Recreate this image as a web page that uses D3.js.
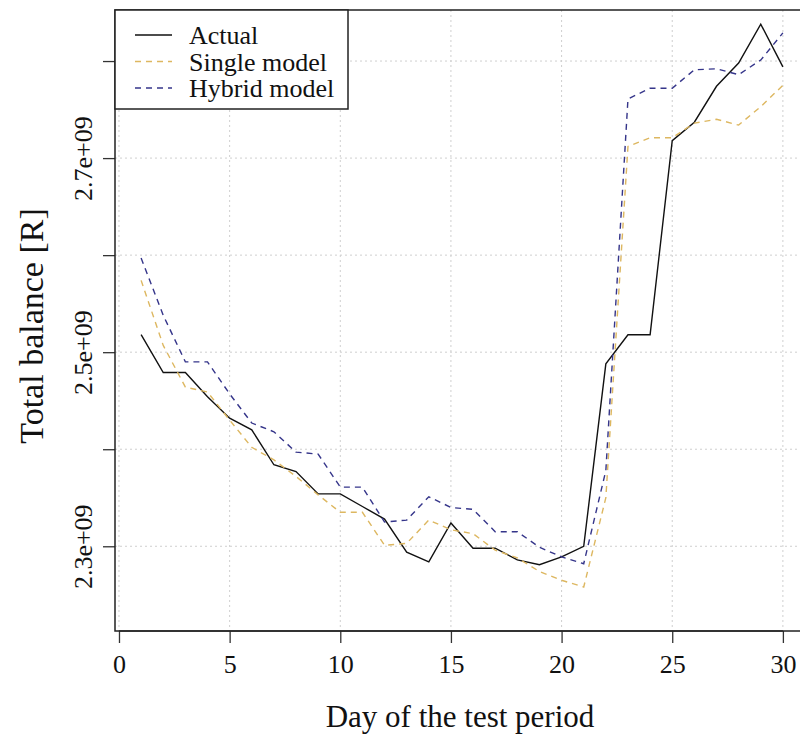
<!DOCTYPE html>
<html>
<head>
<meta charset="utf-8">
<title>Total balance</title>
<script src="https://d3js.org/d3.v7.min.js"></script>
<style>
  body { margin: 0; background: #fff; }
  text { font-family: 'Liberation Serif', 'Times New Roman', serif; fill: #111; }
</style>
</head>
<body>
<svg width="800" height="735"></svg>
<script>
// days of the test period
var days = [1,2,3,4,5,6,7,8,9,10,11,12,13,14,15,16,17,18,19,20,21,22,23,24,25,26,27,28,29,30];

// total balance
var actual = [2.518e9,2.479e9,2.479e9,2.454e9,2.432e9,2.420e9,2.384e9,2.377e9,2.354e9,2.354e9,
              2.341e9,2.328e9,2.294e9,2.284e9,2.324e9,2.298e9,2.298e9,2.286e9,2.281e9,2.289e9,
              2.300e9,2.488e9,2.518e9,2.518e9,2.718e9,2.737e9,2.774e9,2.798e9,2.838e9,2.794e9];
var single = [2.574e9,2.507e9,2.464e9,2.459e9,2.430e9,2.402e9,2.389e9,2.372e9,2.353e9,2.335e9,
              2.335e9,2.301e9,2.303e9,2.327e9,2.317e9,2.313e9,2.296e9,2.288e9,2.274e9,2.265e9,
              2.258e9,2.350e9,2.712e9,2.721e9,2.721e9,2.736e9,2.740e9,2.734e9,2.753e9,2.775e9];
var hybrid = [2.597e9,2.538e9,2.490e9,2.490e9,2.457e9,2.427e9,2.418e9,2.397e9,2.395e9,2.361e9,
              2.361e9,2.325e9,2.327e9,2.351e9,2.340e9,2.338e9,2.315e9,2.315e9,2.299e9,2.289e9,
              2.282e9,2.378e9,2.761e9,2.772e9,2.772e9,2.791e9,2.792e9,2.786e9,2.801e9,2.829e9];

var xTicks = [0,5,10,15,20,25,30];
var yTicks = [2.3e9,2.4e9,2.5e9,2.6e9,2.7e9,2.8e9];
var yLabels = [2.3e9,2.5e9,2.7e9];

var svg = d3.select("svg"),
    pL = 115, pR = 809, pT = 10, pB = 631;

var x = d3.scaleLinear().domain([-0.18, 31.18]).range([pL, pR]);
var y = d3.scaleLinear().domain([2.2127e9, 2.8526e9]).range([pB, pT]);

svg.append("defs").append("clipPath").attr("id", "plot")
  .append("rect").attr("x", pL).attr("y", pT).attr("width", pR - pL).attr("height", pB - pT);

// grid
var grid = svg.append("g").attr("stroke", "#cfcfcf").attr("stroke-width", 1).attr("stroke-dasharray", "2,3");
grid.selectAll(".gx").data(xTicks).enter().append("line")
    .attr("x1", function(d) { return x(d); }).attr("x2", function(d) { return x(d); })
    .attr("y1", pT).attr("y2", pB);
grid.selectAll(".gy").data(yTicks).enter().append("line")
    .attr("y1", function(d) { return y(d); }).attr("y2", function(d) { return y(d); })
    .attr("x1", pL).attr("x2", pR);

// series
var series = [
  {name: "Actual", values: actual, color: "#111111", dash: null},
  {name: "Single model", values: single, color: "#DDB760", dash: "6,5"},
  {name: "Hybrid model", values: hybrid, color: "#35358a", dash: "6,5"}
];

var line = d3.line()
    .x(function(d, i) { return x(days[i]); })
    .y(function(d) { return y(d); });

var lines = svg.append("g").attr("clip-path", "url(#plot)");
lines.selectAll("path").data(series).enter().append("path")
    .attr("fill", "none")
    .attr("stroke", function(d) { return d.color; })
    .attr("stroke-width", 1.4)
    .attr("stroke-dasharray", function(d) { return d.dash; })
    .attr("d", function(d) { return line(d.values); });

// axes
var xAxis = svg.append("g").attr("transform", "translate(0," + pB + ")")
    .call(d3.axisBottom(x).tickValues(xTicks).tickSize(12).tickPadding(12).tickSizeOuter(0));
xAxis.select(".domain").attr("d", "M" + x(0) + ",0H" + x(30));
xAxis.selectAll("text").style("font-size", "26px").style("font-family", "'Liberation Serif', serif");

var fmt = function(d) { return d3.format(".1e")(d).replace("e+9", "e+09"); };
var yAxis = svg.append("g").attr("transform", "translate(" + pL + ",0)")
    .call(d3.axisLeft(y).tickValues(yTicks).tickSize(12).tickSizeOuter(0)
      .tickFormat(function(d) { return yLabels.indexOf(d) >= 0 ? fmt(d) : ""; }));
yAxis.select(".domain").remove();
// R style: labels run parallel to the axis
yAxis.selectAll("text")
    .style("font-size", "26px").style("font-family", "'Liberation Serif', serif")
    .attr("text-anchor", "middle").attr("dy", null)
    .attr("transform", "rotate(-90)")
    .attr("x", 0)
    .attr("y", -23);
svg.selectAll(".tick line").attr("stroke", "#333").attr("stroke-width", 1.3);
xAxis.select(".domain").attr("stroke", "#333").attr("stroke-width", 1.3);

// box
svg.append("rect").attr("x", pL).attr("y", pT).attr("width", pR - pL).attr("height", pB - pT)
    .attr("fill", "none").attr("stroke", "#222").attr("stroke-width", 1.5);

// axis titles
svg.append("text").attr("x", 460).attr("y", 727).attr("text-anchor", "middle")
    .style("font-size", "31px").text("Day of the test period");
svg.append("text").attr("transform", "translate(43," + 326 + ") rotate(-90)")
    .attr("text-anchor", "middle").style("font-size", "34px").text("Total balance [R]");

// legend
var lg = svg.append("g");
lg.append("rect").attr("x", pL).attr("y", pT).attr("width", 233).attr("height", 99)
    .attr("fill", "#fff").attr("stroke", "#222").attr("stroke-width", 1.5);
var items = lg.selectAll(".item").data(series).enter().append("g")
    .attr("transform", function(d, i) { return "translate(0," + (35 + i * 26.5) + ")"; });
items.append("line").attr("x1", 135).attr("x2", 172)
    .attr("stroke", function(d) { return d.color; })
    .attr("stroke-width", 1.4)
    .attr("stroke-dasharray", function(d) { return d.dash; });
items.append("text").attr("x", 189).attr("y", 9).style("font-size", "26px")
    .text(function(d) { return d.name; });
</script>
</body>
</html>
